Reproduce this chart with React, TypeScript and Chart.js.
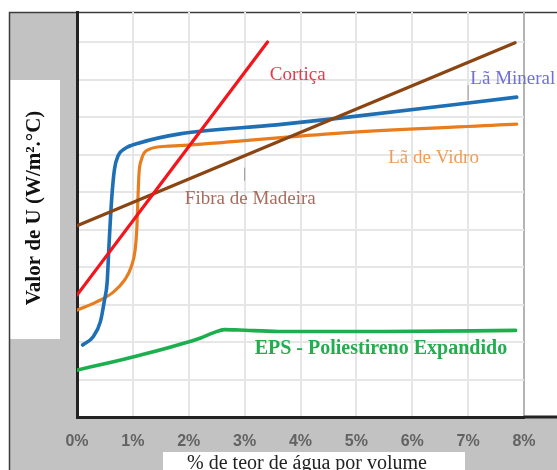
import React, { useEffect, useRef } from "react";
import { Chart, registerables } from "chart.js";

Chart.register(...registerables);

// x axis: % de teor de água por volume
const xTickValues = [0, 1, 2, 3, 4, 5, 6, 7, 8];

// Cortiça
const corticaX = [0, 3.41];
const corticaY = [3.25, 10.0];

// Fibra de Madeira
const fibraX = [0, 7.84];
const fibraY = [5.1, 9.98];

// Lã Mineral
const mineralX = [0.1, 0.29, 0.42, 0.49, 0.54, 0.57, 0.62, 0.67, 0.74, 0.85, 1.1, 1.84, 3.57, 4.7, 7.87];
const mineralY = [1.92, 2.14, 2.55, 3.1, 3.6, 4.5, 5.8, 6.6, 6.98, 7.15, 7.3, 7.55, 7.79, 7.97, 8.53];

// Lã de Vidro
const vidroX = [0.0, 0.35, 0.65, 0.85, 0.97, 1.04, 1.07, 1.09, 1.11, 1.15, 1.24, 1.6, 1.98, 4.7, 7.87];
const vidroY = [2.85, 3.07, 3.33, 3.65, 4.0, 4.45, 5.0, 5.8, 6.5, 6.85, 7.1, 7.22, 7.25, 7.57, 7.81];

// EPS - Poliestireno Expandido
const epsX = [0.0, 1.0, 2.2, 2.45, 2.64, 2.9, 3.6, 5.5, 7.85];
const epsY = [1.25, 1.6, 2.1, 2.25, 2.33, 2.32, 2.28, 2.28, 2.31];

const seriesNames = ["Cortiça", "Fibra de Madeira", "Lã Mineral", "Lã de Vidro", "EPS - Poliestireno Expandido"];
const seriesColors = ["#f2151c", "#8a4512", "#1f6fb4", "#e77d1f", "#1bb04d"];
const labelColors = ["#e33a4e", "#a86a5c", "#6f6fd8", "#ee9d57", "#22ad4f"];
// label anchor (data units): left x, baseline y
const labelX = [3.45, 1.93, 7.04, 5.57, 3.18];
const labelY = [8.99, 5.68, 8.88, 6.77, 1.68];

const yTitle = "Valor de U (W/m².°C)";
const xTitle = "% de teor de água por volume";

const zip = (xs: number[], ys: number[]) => xs.map((x, i) => ({ x, y: ys[i] }));

export default function App() {
  const ref = useRef<HTMLCanvasElement | null>(null);

  useEffect(() => {
    if (!ref.current) return;
    const W = 557;
    const H = 470;

    const framePlugin = {
      id: "frame",
      beforeDraw(chart: any) {
        const ctx = chart.ctx;
        ctx.save();
        ctx.fillStyle = "#ffffff";
        ctx.fillRect(0, 0, W, H);
        ctx.fillStyle = "#c2c2c2";
        ctx.fillRect(10, 13, 66, H - 13);
        ctx.fillRect(10, 418, W - 10, H - 418);
        ctx.fillStyle = "#ffffff";
        ctx.fillRect(10, 80, 50, 259);
        ctx.fillRect(163, 452, 302, 18);
        ctx.strokeStyle = "#3c3c3c";
        ctx.lineWidth = 1.5;
        ctx.beginPath();
        ctx.moveTo(9.5, H);
        ctx.lineTo(9.5, 12.5);
        ctx.lineTo(W, 12.5);
        ctx.stroke();
        // y title
        ctx.translate(35, 208);
        ctx.rotate(-Math.PI / 2);
        ctx.fillStyle = "#111111";
        ctx.font = 'bold 21px "Liberation Serif", serif';
        ctx.textAlign = "center";
        ctx.textBaseline = "middle";
        ctx.fillText(yTitle, 0, 0);
        ctx.restore();
        ctx.save();
        ctx.fillStyle = "#222222";
        ctx.font = '20px "Liberation Serif", serif';
        ctx.textAlign = "center";
        ctx.textBaseline = "alphabetic";
        ctx.fillText(xTitle, 307, 469);
        ctx.restore();
      },
      afterDatasetsDraw(chart: any) {
        const ctx = chart.ctx;
        const xs = chart.scales.x;
        const ys = chart.scales.y;
        ctx.save();
        ctx.textAlign = "left";
        ctx.textBaseline = "alphabetic";
        seriesNames.forEach((name, i) => {
          ctx.fillStyle = labelColors[i];
          ctx.font = i === 4 ? 'bold 20px "Liberation Serif", serif' : '19px "Liberation Serif", serif';
          ctx.fillText(name, xs.getPixelForValue(labelX[i]), ys.getPixelForValue(labelY[i]));
        });
        // small leader marks
        ctx.strokeStyle = "#9a9a9a";
        ctx.lineWidth = 1;
        ctx.beginPath();
        ctx.moveTo(xs.getPixelForValue(7.0), ys.getPixelForValue(8.85));
        ctx.lineTo(xs.getPixelForValue(7.0), ys.getPixelForValue(8.45));
        ctx.moveTo(xs.getPixelForValue(3.0), ys.getPixelForValue(6.65));
        ctx.lineTo(xs.getPixelForValue(3.0), ys.getPixelForValue(6.3));
        ctx.stroke();
        // axis line extension to the right edge
        ctx.strokeStyle = "#222222";
        ctx.lineWidth = 3;
        ctx.beginPath();
        const yb = chart.chartArea.bottom;
        ctx.moveTo(chart.chartArea.right, yb);
        ctx.lineTo(W, yb);
        ctx.stroke();
        ctx.restore();
      },
    };

    const seriesX = [corticaX, fibraX, mineralX, vidroX, epsX];
    const seriesY = [corticaY, fibraY, mineralY, vidroY, epsY];
    const widths = [3.2, 3.2, 3.6, 3.2, 3.6];

    const chart = new Chart(ref.current, {
      type: "line",
      data: {
        datasets: seriesNames.map((name, i) => ({
          label: name,
          data: zip(seriesX[i], seriesY[i]),
          borderColor: seriesColors[i],
          backgroundColor: seriesColors[i],
          borderWidth: widths[i],
          pointRadius: 0,
          fill: false,
          cubicInterpolationMode: "monotone" as const,
          borderCapStyle: "round" as const,
          borderJoinStyle: "round" as const,
        })),
      },
      options: {
        responsive: false,
        devicePixelRatio: 1,
        animation: false,
        layout: { padding: { top: 12, right: 33, left: 0, bottom: 0 } },
        plugins: {
          legend: { display: false },
          tooltip: { enabled: false },
          title: { display: false },
        },
        scales: {
          x: {
            type: "linear",
            min: 0,
            max: 8,
            afterBuildTicks: (scale: any) => {
              scale.ticks = xTickValues.map((v) => ({ value: v }));
            },
            afterFit: (scale: any) => {
              scale.height = 53;
            },
            ticks: {
              color: "#626262",
              font: { family: '"Liberation Sans", Arial, sans-serif', size: 16, weight: "bold" },
              padding: 15,
              maxRotation: 0,
              autoSkip: false,
              callback: (v: any) => v + "%",
            },
            grid: {
              drawTicks: false,
              lineWidth: 2,
              color: (c: any) => (c.tick && c.tick.value === 8 ? "#b4b4b4" : "#e6e6e6"),
            },
            border: { display: true, color: "#222222", width: 3 },
          },
          y: {
            type: "linear",
            min: 0,
            max: 10.8,
            afterFit: (scale: any) => {
              scale.width = 77;
            },
            ticks: { display: false, stepSize: 1 },
            grid: {
              drawTicks: false,
              lineWidth: 2,
              color: (c: any) =>
                c.tick && Number.isInteger(c.tick.value) && c.tick.value > 0 ? "#e6e6e6" : "rgba(0,0,0,0)",
            },
            border: { display: true, color: "#222222", width: 3 },
          },
        },
      },
      plugins: [framePlugin],
    });

    return () => chart.destroy();
  }, []);

  return (
    <div style={{ position: "absolute", left: 0, top: 0, width: 557, height: 470 }}>
      <canvas ref={ref} width={557} height={470} style={{ display: "block" }} />
    </div>
  );
}
